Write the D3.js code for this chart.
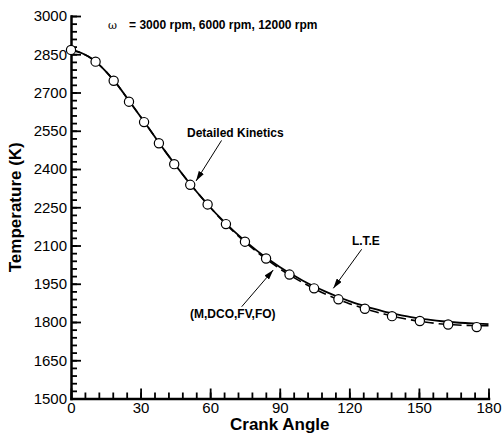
<!DOCTYPE html>
<meta charset="utf-8">
<style>
	body { margin: 0; background: #fff; }
	text { font-family: "Liberation Sans", Arial, sans-serif; fill: #000; }
	.axis path, .axis line { stroke: #000; }
	.axis path { stroke-width: 2.5; }
	.axis line { stroke-width: 1.8; }
	.axis text { font-size: 15px; }
	.note { font-size: 12px; font-weight: bold; }
</style>

<div class="chart"></div>

<script src="https://d3js.org/d3.v7.min.js"></script>

<script>
	// L.T.E (solid line)
	var lteAngle = [0, 5, 10, 15, 20, 25, 30, 35, 40, 45, 50, 55, 60, 65, 70, 75, 80, 85, 90,
		95, 100, 105, 110, 115, 120, 125, 130, 135, 140, 145, 150, 155, 160, 165, 170, 175, 180];
	var lteTemp = [2867, 2853, 2826, 2783, 2730, 2668, 2605, 2541, 2477, 2416, 2357, 2302, 2250, 2202, 2158, 2118, 2081, 2047, 2016,
		1988, 1962, 1939, 1918, 1899, 1882, 1867, 1853, 1841, 1831, 1822, 1814, 1808, 1803, 1799, 1796, 1794, 1792];

	// (M,DCO,FV,FO) (dashed line)
	var redAngle = lteAngle;
	var redTemp = [2867, 2853, 2826, 2783, 2730, 2668, 2605, 2541, 2477, 2416, 2357, 2302, 2250, 2200, 2155, 2114, 2076, 2041, 2009,
		1980, 1954, 1930, 1908, 1889, 1872, 1857, 1843, 1831, 1820, 1811, 1803, 1797, 1792, 1789, 1787, 1786, 1785];

	// Detailed Kinetics (circles)
	var dkAngle = [0, 10.6, 18.4, 25.0, 31.5, 37.9, 44.5, 51.4, 58.9, 66.8, 75.0, 84.1, 94.2, 104.8, 115.3, 126.7, 138.4, 150.4, 162.6, 174.9];
	var dkTemp = [2867, 2821, 2746, 2664, 2584, 2501, 2419, 2338, 2261, 2184, 2115, 2049, 1986, 1932, 1889, 1852, 1823, 1804, 1790, 1780];

	var xTicks = [0, 30, 60, 90, 120, 150, 180];
	var yTicks = [1500, 1650, 1800, 1950, 2100, 2250, 2400, 2550, 2700, 2850, 3000];

	// annotations in data units: text position, arrow start, arrow tip
	var notes = [
		{ label: "Detailed Kinetics", pos: [50, 2525], from: [64.9, 2512], to: [53.9, 2353] },
		{ label: "L.T.E", pos: [121.1, 2102], from: [125.3, 2085], to: [113.1, 1932] },
		{ label: "(M,DCO,FV,FO)", pos: [51.3, 1816], from: [73.6, 1860], to: [87.2, 2004] }
	];

	var width = 502, height = 434;
	var margin = { top: 16, right: 13.5, bottom: 35.5, left: 71 };

	var svg = d3.select('.chart')
		.append('svg')
		.attr('width', width)
		.attr('height', height);

	var defs = svg.append('defs');
	defs.append('marker')
		.attr('id', 'head')
		.attr('viewBox', '0 0 10 6')
		.attr('refX', 10)
		.attr('refY', 3)
		.attr('markerWidth', 10)
		.attr('markerHeight', 6)
		.attr('markerUnits', 'userSpaceOnUse')
		.attr('orient', 'auto')
		.append('path')
		.attr('d', 'M0,0L10,3L0,6Z')
		.attr('fill', '#000');

	var x = d3.scaleLinear().domain([0, 180]).range([margin.left, width - margin.right]);
	var y = d3.scaleLinear().domain([1500, 3000]).range([height - margin.bottom, margin.top]);

	// minor ticks
	svg.append('g')
		.attr('class', 'axis')
		.attr('transform', 'translate(0,' + y(1500) + ')')
		.call(d3.axisBottom(x).tickValues(d3.range(0, 181, 6)).tickSize(-6).tickFormat(''))
		.select('.domain').remove();
	svg.append('g')
		.attr('class', 'axis')
		.attr('transform', 'translate(' + x(0) + ',0)')
		.call(d3.axisLeft(y).tickValues(d3.range(1500, 3001, 30)).tickSize(-6).tickFormat(''))
		.select('.domain').remove();

	// major ticks
	svg.append('g')
		.attr('class', 'axis')
		.attr('transform', 'translate(0,' + y(1500) + ')')
		.call(d3.axisBottom(x).tickValues(xTicks).tickFormat(d3.format('d'))
			.tickSizeInner(-10).tickSizeOuter(0).tickPadding(4));
	svg.append('g')
		.attr('class', 'axis')
		.attr('transform', 'translate(' + x(0) + ',0)')
		.call(d3.axisLeft(y).tickValues(yTicks).tickFormat(d3.format('d'))
			.tickSizeInner(-10).tickSizeOuter(0).tickPadding(4));

	svg.selectAll('.axis .domain').attr('stroke-linecap', 'square');

	// axis titles
	svg.append('text')
		.attr('x', (x(0) + x(180)) / 2)
		.attr('y', 430)
		.attr('text-anchor', 'middle')
		.style('font-size', '17px')
		.style('font-weight', 'bold')
		.text('Crank Angle');

	svg.append('text')
		.attr('transform', 'translate(21,' + y(2250) + ') rotate(-90)')
		.attr('text-anchor', 'middle')
		.style('font-size', '17px')
		.style('font-weight', 'bold')
		.text('Temperature (K)');

	var line = d3.line()
		.curve(d3.curveMonotoneX)
		.x(function(d) { return x(d[0]); })
		.y(function(d) { return y(d[1]); });

	svg.append('path')
		.datum(d3.zip(redAngle, redTemp))
		.attr('d', line)
		.attr('fill', 'none')
		.attr('stroke', '#000')
		.attr('stroke-width', 1.6)
		.attr('stroke-dasharray', '9,5');

	svg.append('path')
		.datum(d3.zip(lteAngle, lteTemp))
		.attr('d', line)
		.attr('fill', 'none')
		.attr('stroke', '#000')
		.attr('stroke-width', 1.8);

	svg.selectAll('circle.dk')
		.data(d3.zip(dkAngle, dkTemp))
		.enter().append('circle')
		.attr('class', 'dk')
		.attr('cx', function(d) { return x(d[0]); })
		.attr('cy', function(d) { return y(d[1]); })
		.attr('r', 4.6)
		.attr('fill', '#fff')
		.attr('stroke', '#000')
		.attr('stroke-width', 1.2);

	// annotations
	notes.forEach(function(n) {
		svg.append('line')
			.attr('x1', x(n.from[0])).attr('y1', y(n.from[1]))
			.attr('x2', x(n.to[0])).attr('y2', y(n.to[1]))
			.attr('stroke', '#000')
			.attr('stroke-width', 1)
			.attr('marker-end', 'url(#head)');
		svg.append('text')
			.attr('class', 'note')
			.attr('x', x(n.pos[0]))
			.attr('y', y(n.pos[1]))
			.text(n.label);
	});

	var speeds = svg.append('text')
		.attr('class', 'note')
		.attr('x', x(16))
		.attr('y', y(2949));
	speeds.append('tspan')
		.style('font-weight', 'normal')
		.style('font-family', 'DejaVu Serif, serif')
		.style('font-size', '11px')
		.text('\u03c9');
	speeds.append('tspan')
		.attr('dx', 12)
		.text('= 3000 rpm, 6000 rpm, 12000 rpm');
</script>
